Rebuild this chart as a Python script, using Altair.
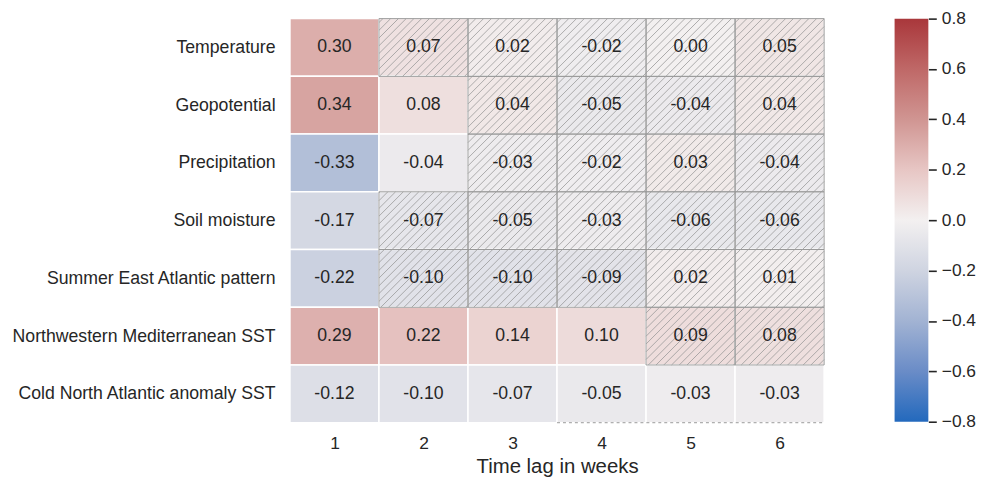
import altair as alt
import pandas as pd

# ---------------- data ----------------
rows = [
    "Temperature",
    "Geopotential",
    "Precipitation",
    "Soil moisture",
    "Summer East Atlantic pattern",
    "Northwestern Mediterranean SST",
    "Cold North Atlantic anomaly SST",
]
lags = [1, 2, 3, 4, 5, 6]
values = [
    [0.30, 0.07, 0.02, -0.02, 0.00, 0.05],
    [0.34, 0.08, 0.04, -0.05, -0.04, 0.04],
    [-0.33, -0.04, -0.03, -0.02, 0.03, -0.04],
    [-0.17, -0.07, -0.05, -0.03, -0.06, -0.06],
    [-0.22, -0.10, -0.10, -0.09, 0.02, 0.01],
    [0.29, 0.22, 0.14, 0.10, 0.09, 0.08],
    [-0.12, -0.10, -0.07, -0.05, -0.03, -0.03],
]
# 1 = not significant (hatched)
hatched = [
    [0, 1, 1, 1, 1, 1],
    [0, 0, 1, 1, 1, 1],
    [0, 0, 1, 1, 1, 1],
    [0, 1, 1, 1, 1, 1],
    [0, 1, 1, 1, 1, 1],
    [0, 0, 0, 0, 1, 1],
    [0, 0, 0, 0, 0, 0],
]
dashed_lags = [4, 5, 6]
cbar_ticks = [-0.8, -0.6, -0.4, -0.2, 0.0, 0.2, 0.4, 0.6, 0.8]
color_domain = [-0.8, -0.6, -0.4, -0.2, 0.0, 0.2, 0.4, 0.6, 0.8]
color_range = ["#2369bd", "#6a8cc7", "#a2b3d3", "#cfd4e1", "#f3f0f0",
               "#e7c6c4", "#d09592", "#bf6867", "#a9373b"]

# ---------------- layout constants ----------------
W, H = 538, 407
FONT = "Liberation Sans"
FS = 17.8
TXT = "#262626"
HATCH_STEP = 7.8  # px

# ---------------- tables ----------------
cell_recs = []
for r, name in enumerate(rows):
    for j, lag in enumerate(lags):
        v = values[r][j]
        cell_recs.append({
            "row": name, "lag": lag, "value": v,
            "label": f"{v:.2f}",
            "x0": lag - 0.5, "x1": lag + 0.5, "xc": lag,
            "y0": r, "y1": r + 1, "yc": r + 0.5,
            "hatched": hatched[r][j],
        })
cells = pd.DataFrame(cell_recs)
hcells = cells[cells["hatched"] == 1]

# hatch segments (45 deg lines, continuous over the grid), clipped to each hatched cell
cw, ch = W / len(lags), H / len(rows)
seg = []
for _, c in hcells.iterrows():
    px0, px1 = (c["x0"] - 0.5) * cw, (c["x1"] - 0.5) * cw
    py0, py1 = c["y0"] * ch, c["y1"] * ch
    k = 0.0
    while k <= W + H + HATCH_STEP:
        lo = max(px0, k - py1)
        hi = min(px1, k - py0)
        if hi - lo > 0.3:
            seg.append({
                "hx0": lo / cw + 0.5, "hy0": (k - lo) / ch,
                "hx1": hi / cw + 0.5, "hy1": (k - hi) / ch,
            })
        k += HATCH_STEP
hatch_df = pd.DataFrame(seg)

dash_df = pd.DataFrame({"dx0": [min(dashed_lags) - 0.5], "dx1": [max(dashed_lags) + 0.5],
                        "dy": [len(rows)]})

xscale = alt.Scale(domain=[0.5, 6.5], nice=False, zero=False)
yscale = alt.Scale(domain=[0, len(rows)], reverse=True, nice=False, zero=False)
cscale = alt.Scale(domain=color_domain, range=color_range, interpolate="rgb")

label_arr = "[" + ",".join("'" + n + "'" for n in rows) + "]"

xaxis = alt.Axis(values=lags, format="d", title="Time lag in weeks", ticks=False, tickSize=0,
                 domain=False, grid=False, labelPadding=12, labelFontSize=17.5,
                 titleFontSize=20.5, titleFontWeight="normal", titlePadding=5,
                 labelAngle=0)
yaxis = alt.Axis(values=[i + 0.5 for i in range(len(rows))], labelExpr=label_arr + "[floor(datum.value)]",
                 title=None, ticks=False, tickSize=0, domain=False, grid=False,
                 labelPadding=15, labelFontSize=FS, labelOverlap=False, labelLimit=500)

base = alt.Chart(cells)
rect = base.mark_rect(stroke="white", strokeWidth=1.5).encode(
    x=alt.X("x0:Q", scale=xscale, axis=xaxis),
    x2="x1:Q",
    y=alt.Y("y0:Q", scale=yscale, axis=yaxis),
    y2="y1:Q",
    color=alt.Color("value:Q", scale=cscale, legend=None),
)
hatch = alt.Chart(hatch_df).mark_rule(color="#959595", strokeWidth=0.75).encode(
    x="hx0:Q", x2="hx1:Q", y="hy0:Q", y2="hy1:Q"
)
outline = alt.Chart(hcells).mark_rect(fill="white", fillOpacity=0, stroke="#9a9a9a", strokeWidth=1).encode(
    x="x0:Q", x2="x1:Q", y="y0:Q", y2="y1:Q"
)
dashed = alt.Chart(dash_df).mark_rule(color="#9a9a9a", strokeWidth=1, strokeDash=[3, 3]).encode(
    x="dx0:Q", x2="dx1:Q", y="dy:Q"
)
text = base.mark_text(fontSize=17.8, color=TXT, font=FONT, align="center", baseline="middle").encode(
    x="xc:Q", y="yc:Q", text="label:N"
)
heat = alt.layer(rect, hatch, outline, dashed, text).properties(width=W, height=H)

# ---------------- colorbar ----------------
cbar_df = pd.DataFrame({"lo": [min(cbar_ticks)], "hi": [max(cbar_ticks)]})
grad = alt.Gradient(
    gradient="linear",
    stops=[alt.GradientStop(offset=(d - color_domain[0]) / (color_domain[-1] - color_domain[0]), color=c)
           for d, c in zip(color_domain, color_range)],
    x1=0, y1=1, x2=0, y2=0,
)
cbar = alt.Chart(cbar_df).mark_rect(fill=grad).encode(
    y=alt.Y("lo:Q", scale=alt.Scale(domain=[min(cbar_ticks), max(cbar_ticks)], nice=False, zero=False),
            axis=alt.Axis(orient="right", values=cbar_ticks, format=".1f", tickSize=8, tickWidth=1.6,
                          tickColor=TXT, domain=False, grid=False, title=None, labelPadding=5,
                          labelFontSize=17.5)),
    y2="hi:Q",
    x=alt.value(0),
    x2=alt.value(34),
).properties(width=34, height=406)

chart = alt.hconcat(heat, cbar, spacing=70).properties(
    padding={"left": 4, "top": 0, "right": 0, "bottom": 0},
    background="white",
).configure_view(strokeWidth=0).configure_axis(
    labelFont=FONT, titleFont=FONT, labelColor=TXT, titleColor=TXT
).configure_concat(spacing=70)

chart.save("out.html", embed_options={"renderer": "svg", "actions": False})
